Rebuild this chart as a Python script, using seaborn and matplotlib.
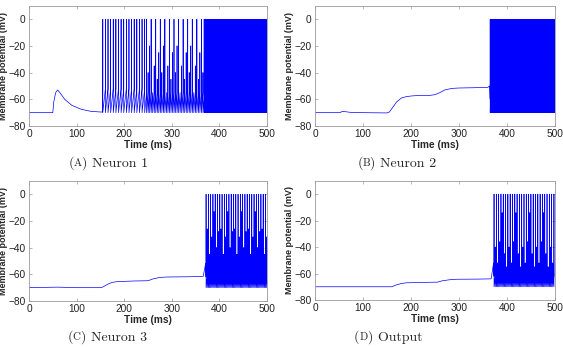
import numpy as np
import pandas as pd
import matplotlib
matplotlib.use("Agg")
import matplotlib.pyplot as plt
import seaborn as sns
from matplotlib.offsetbox import TextArea, HPacker, AnchoredOffsetbox

# ---------------- data ----------------
# subthreshold waypoints (time ms, membrane potential mV)
n1_sub_t = [0, 50, 52, 56, 60, 65, 75, 90, 110, 130, 150, 154]
n1_sub_v = [-70, -70, -62, -55, -53, -55, -60, -64.5, -67.5, -69, -69.5, -69.5]
# spike bursts: (start ms, stop ms, inter-spike interval ms, threshold mV)
n1_bursts = [(155, 247, 5.5, -52), (247, 368, 3.2, -55), (368, 500, 0.9, -60)]
# sampled spike peaks (the coarse time step clips many spikes), cycled per burst
n1_peaks = [[0], [0, -40, -20, 0, -55, -35, 0, -45, -25], [0]]

n2_sub_t = [0, 52, 57, 62, 75, 100, 150, 155, 160, 170, 180, 190, 200, 220, 240, 250,
            260, 270, 285, 300, 330, 360, 364]
n2_sub_v = [-70, -70, -69, -69.2, -69.8, -70, -70.2, -69.5, -67, -62, -59, -58, -57.5,
            -57, -57, -56.5, -55, -53, -51.8, -51.5, -51.3, -51, -50]
n2_bursts = [(365, 500, 0.9, -60)]
n2_peaks = [[0]]

n3_sub_t = [0, 60, 100, 150, 155, 165, 175, 185, 220, 250, 260, 275, 290, 340, 366, 371]
n3_sub_v = [-70, -69.6, -70, -70, -69.5, -67.5, -66, -65.5, -65, -64.8, -63.5, -62.3,
            -62, -61.8, -61.5, -52]
n3_bursts = [(372, 500, 2.4, -62)]
n3_peaks = [[0, -26, 0, -45, 0, -32, 0, -13, 0, -40, 0, -28]]

out_sub_t = [0, 100, 160, 170, 180, 190, 220, 255, 265, 280, 295, 340, 367, 372]
out_sub_v = [-70, -70, -70, -68.5, -67.5, -67, -66.7, -66.5, -65.5, -64.7, -64.3, -64.2,
             -64, -52]
out_bursts = [(373, 500, 2.4, -62)]
out_peaks = [[0, -40, 0, -52, 0, -36, 0, -14, 0, -45, 0, -55]]

panel_names = ["Neuron 1", "Neuron 2", "Neuron 3", "Output"]
panel_letters = ["A", "B", "C", "D"]
x_ticks = [0, 100, 200, 300, 400, 500]
y_ticks = [-80, -60, -40, -20, 0]
V_RESET = -70


def build_trace(sub_t, sub_v, bursts, peaks):
    t = list(sub_t)
    v = list(sub_v)
    for (start, stop, isi, thr), pk in zip(bursts, peaks):
        for k, s in enumerate(np.arange(start, stop, isi)):
            p = pk[k % len(pk)]
            t += [s, s, s]
            v += [thr, p, V_RESET]
    return pd.DataFrame({"t": t, "v": v})


traces = [build_trace(n1_sub_t, n1_sub_v, n1_bursts, n1_peaks),
          build_trace(n2_sub_t, n2_sub_v, n2_bursts, n2_peaks),
          build_trace(n3_sub_t, n3_sub_v, n3_bursts, n3_peaks),
          build_trace(out_sub_t, out_sub_v, out_bursts, out_peaks)]

# ---------------- figure ----------------
sns.set_theme(style="white")
plt.rcParams["font.family"] = ["Liberation Sans", "DejaVu Sans"]

fig = plt.figure(figsize=(5.63, 3.47), dpi=100)
axes_pos = [
    [29 / 563, 1 - 126 / 347, 238 / 563, 120 / 347],
    [315 / 563, 1 - 126 / 347, 240 / 563, 120 / 347],
    [29 / 563, 1 - 301 / 347, 238 / 563, 120 / 347],
    [315 / 563, 1 - 300 / 347, 240 / 563, 119 / 347],
]
caption_pos = [(108 / 563, 1 - 163 / 347), (397 / 563, 1 - 163 / 347),
               (107 / 563, 1 - 337 / 347), (388 / 563, 1 - 337 / 347)]

spine_col = "#9a9a9a"
for i, (pos, df) in enumerate(zip(axes_pos, traces)):
    ax = fig.add_axes(pos)
    sns.lineplot(data=df, x="t", y="v", estimator=None, sort=False, ax=ax,
                 color="#0000ff", linewidth=0.5, errorbar=None)
    ax.set_xlim(0, 500)
    ax.set_ylim(-80, 10)
    ax.set_xticks(x_ticks)
    ax.set_yticks(y_ticks)
    ax.tick_params(direction="in", length=2.5, width=0.5, color=spine_col,
                   labelsize=7.3, labelcolor="#222222", pad=2.5,
                   top=True, right=True, bottom=True, left=True)
    for sp in ax.spines.values():
        sp.set_color(spine_col)
        sp.set_linewidth(0.6)
    ax.set_xlabel("Time (ms)", fontsize=7.3, fontweight="bold", labelpad=0.5)
    ax.set_ylabel("Membrane potential (mV)", fontsize=6.5, fontweight="bold", labelpad=0)

    # caption "(A) Neuron 1" with small-caps letter
    parts = [TextArea("(", textprops=dict(family="cmr10", size=10)),
             TextArea(panel_letters[i], textprops=dict(family="cmr10", size=7.8)),
             TextArea(") " + panel_names[i], textprops=dict(family="cmr10", size=10))]
    box = HPacker(children=parts, align="baseline", pad=0, sep=0)
    anc = AnchoredOffsetbox(loc="center", child=box, pad=0, frameon=False,
                            bbox_to_anchor=caption_pos[i],
                            bbox_transform=fig.transFigure, borderpad=0)
    fig.add_artist(anc)

fig.savefig("out.png", dpi=100)
